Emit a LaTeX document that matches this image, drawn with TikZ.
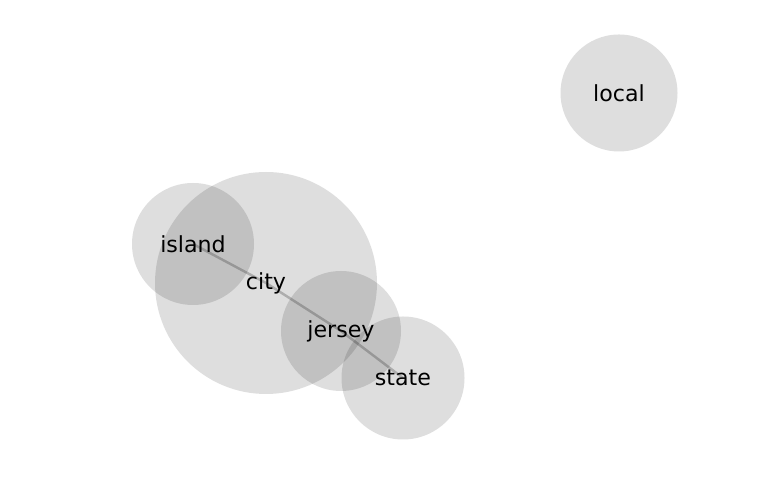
\documentclass[tikz,border=0pt]{standalone}
\usepackage{fontspec}
\setmainfont{DejaVu Sans}
\tikzset{
  bubble/.style={circle,fill=black,fill opacity=.13,text opacity=1,inner sep=0pt,font=\fontsize{12.6}{15}\selectfont},
  link/.style={draw=black,draw opacity=.22,line width=1.4pt}
}
\begin{document}
\begin{tikzpicture}
            \useasboundingbox (0,0) rectangle (15.36,10);
            \clip (0,0) rectangle (15.36,9.3);
            \coordinate (island) at (3.86,5.12);
            \coordinate (city) at (5.32,4.34);
            \coordinate (jersey) at (6.82,3.38);
            \coordinate (state) at (8.06,2.44);
            \coordinate (local) at (12.38,8.14);
            \draw[link] (island) -- (city) -- (jersey) -- (state);
            \node[bubble,minimum size=4.44cm] (citynode) at (city) {city};
            \node[bubble,minimum size=2.44cm] (islandnode) at (island) {island};
            \node[bubble,minimum size=2.4cm] (jerseynode) at (jersey) {jersey};
            \node[bubble,minimum size=2.46cm] (statenode) at (state) {state};
            \node[bubble,minimum size=2.34cm] (localnode) at (local) {local};
        \end{tikzpicture}
\end{document}
